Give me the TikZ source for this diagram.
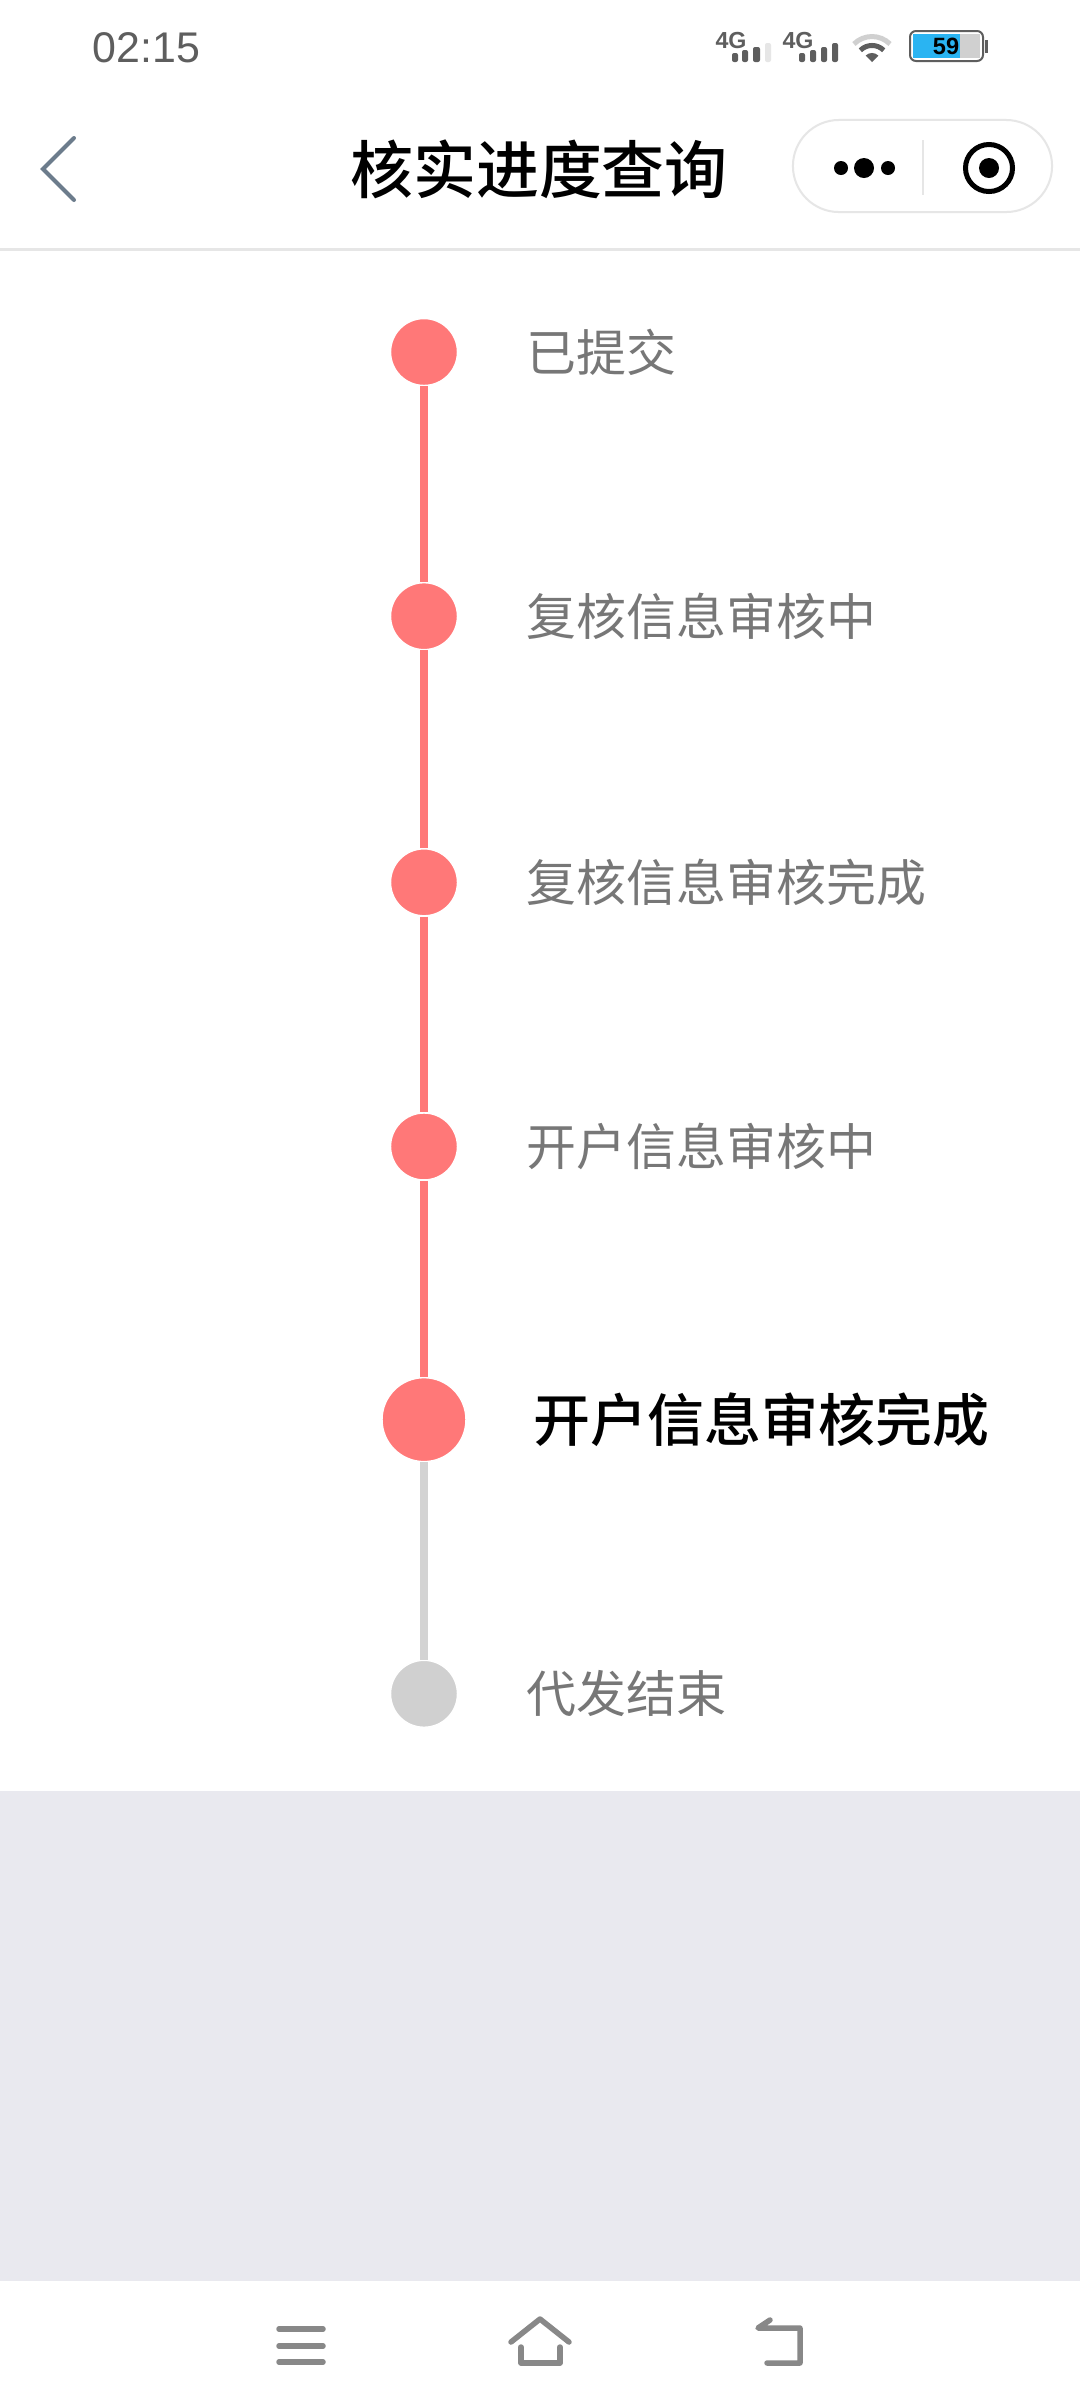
\documentclass[tikz,border=0pt]{standalone}
\usepackage{fontspec}
\setmainfont{Liberation Sans}
\newfontfamily\cjk{Noto Sans CJK SC}
\newfontfamily\cjkmid{Noto Sans CJK SC Medium}
\usetikzlibrary{positioning}

\definecolor{stagered}{HTML}{FF7878}
\definecolor{stagegray}{HTML}{D0D0D0}
\definecolor{linegray}{HTML}{D3D3D3}
\definecolor{txtgray}{HTML}{777777}
\definecolor{bandgray}{HTML}{E9E9EF}
\definecolor{rulegray}{HTML}{E6E6E6}
\definecolor{icongray}{HTML}{888888}
\definecolor{backslate}{HTML}{6C7C8C}
\definecolor{battblue}{HTML}{2AB4F2}
\definecolor{statgray}{HTML}{5E5E5E}

\begin{document}
\begin{tikzpicture}[x=0.01cm,y=-0.01cm,node distance=2.64cm,on grid,
   stage/.style={circle,fill=stagered,draw=white,line width=0.015cm,minimum size=0.67cm,inner sep=0pt},
   stagenow/.style={stage,minimum size=0.84cm},
   stagetodo/.style={stage,fill=stagegray},
   stagetxt/.style={anchor=west,inner sep=0pt,text=txtgray,font=\cjk\fontsize{14.2}{17}\selectfont},
   stagenowtxt/.style={stagetxt,text=black,font=\cjkmid\fontsize{16.2}{19}\selectfont},
   donelink/.style={draw=stagered,line width=0.08cm},
   todolink/.style={draw=linegray,line width=0.08cm},
   navicon/.style={icongray,line width=0.055cm,line cap=round,line join=round},
   sigbar/.style={rounded corners=0.02cm}]
   \useasboundingbox (0,0) rectangle (1080,2408);
   \fill[white] (0,0) rectangle (1080,2408);
   \fill[bandgray] (0,1791) rectangle (1080,2281);
   \draw[rulegray,line width=0.03cm] (0,249) -- (1080,249);

   % status bar
   \node[anchor=west,inner sep=0pt,text=statgray,font=\fontsize{12.2}{14}\selectfont] (clock) at (92,48) {02:15};
   \node[inner sep=0pt,text=statgray,font=\bfseries\fontsize{6.6}{7}\selectfont] (sim1) at (731,40) {4G};
   \node[inner sep=0pt,text=statgray,font=\bfseries\fontsize{6.6}{7}\selectfont] (sim2) at (798,40) {4G};
   \fill[statgray,sigbar] (732,53) rectangle (738,62) (742,50) rectangle (748,62) (753,47) rectangle (760,62);
   \fill[rulegray,sigbar] (765,43) rectangle (771,62);
   \fill[statgray,sigbar] (799,53) rectangle (805,62) (810,50) rectangle (816,62) (821,47) rectangle (827,62) (832,43) rectangle (838,62);
   \draw[stagegray,line width=0.05cm] (890,44) arc[start angle=45,end angle=135,radius=0.255cm];
   \draw[statgray,line width=0.05cm] (883.7,50.3) arc[start angle=45,end angle=135,radius=0.165cm];
   \fill[statgray] (872,62) -- (878.4,55.6) arc[start angle=45,end angle=135,radius=0.09cm] -- cycle;
   \fill[battblue] (913,34) rectangle (960,58);
   \fill[stagegray] (960,34) rectangle (980,58);
   \draw[statgray,line width=0.02cm,rounded corners=0.06cm] (910,31) rectangle (983,61);
   \fill[statgray] (985,40) rectangle (988,53);
   \node[inner sep=0pt,font=\bfseries\fontsize{6.7}{8}\selectfont] (batt) at (946,46) {59};

   % title bar
   \draw[backslate,line width=0.04cm,line cap=round] (74,138) -- (43,169) -- (74,200);
   \node[inner sep=0pt,font=\cjkmid\fontsize{17.9}{21}\selectfont] (title) at (539,169) {核实进度查询};
   \node[draw=rulegray,line width=0.02cm,rounded corners=0.46cm,minimum width=2.59cm,minimum height=0.92cm] (capsule) at (922.5,166) {};
   \fill (841,168) circle (0.07cm) (864,168) circle (0.1cm) (888,168) circle (0.07cm);
   \draw[rulegray,line width=0.015cm] (923,140) -- (923,195);
   \draw[line width=0.05cm] (989,168) circle (0.235cm);
   \fill (989,168) circle (0.1cm);

   % timeline
   \node[stage] (s1) at (424,352) {};
   \node[stage] (s2) [below=of s1] {};
   \node[stage] (s3) [below=2.66cm of s2] {};
   \node[stage] (s4) [below=of s3] {};
   \node[stagenow] (s5) [below=2.73cm of s4] {};
   \node[stagetodo] (s6) [below=2.74cm of s5] {};
   \path[donelink]
   (s1) edge (s2)
   (s2) edge (s3)
   (s3) edge (s4)
   (s4) edge (s5);
   \path[todolink] (s5) edge (s6);

   \node[stagetxt] (t1) [right=1.02cm of s1, anchor=west] {已提交};
   \node[stagetxt] (t2) [right=1.02cm of s2, anchor=west] {复核信息审核中};
   \node[stagetxt] (t3) [right=1.02cm of s3, anchor=west] {复核信息审核完成};
   \node[stagetxt] (t4) [right=1.02cm of s4, anchor=west] {开户信息审核中};
   \node[stagenowtxt] (t5) [right=1.09cm of s5, anchor=west] {开户信息审核完成};
   \node[stagetxt] (t6) [right=1.02cm of s6, anchor=west] {代发结束};

   % navigation bar
   \draw[navicon] (279,2329) -- (323,2329) (279,2346) -- (323,2346) (279,2362) -- (323,2362);
   \draw[navicon] (511,2342) -- (540,2319) -- (569,2342);
   \draw[navicon] (521,2347) -- (521,2363) -- (560,2363) -- (560,2347);
   \draw[navicon] (770,2320) -- (758,2328) -- (800,2328) -- (800,2363) -- (767,2363);
\end{tikzpicture}
\end{document}
